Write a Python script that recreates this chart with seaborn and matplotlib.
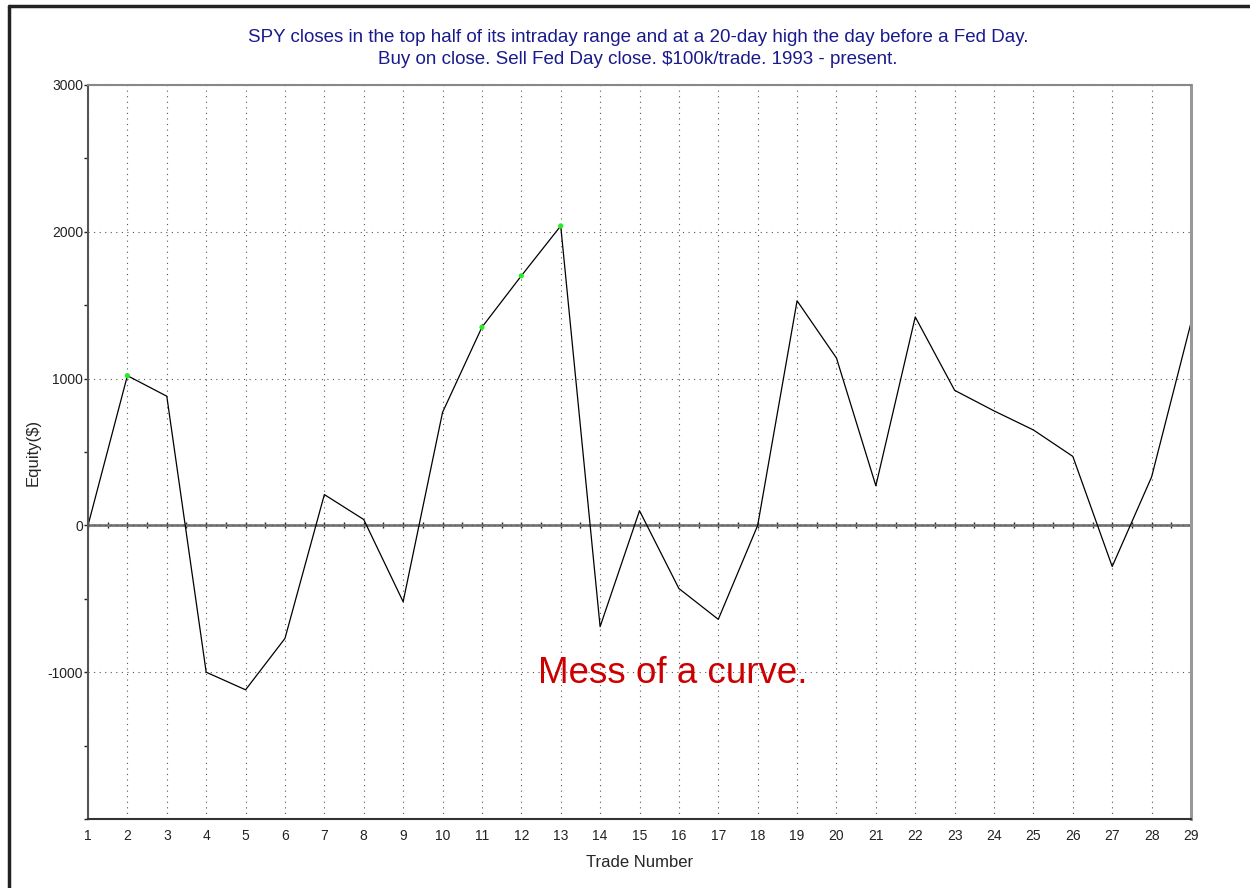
import matplotlib
matplotlib.use("Agg")
import matplotlib.pyplot as plt
import numpy as np
import pandas as pd
import seaborn as sns
from matplotlib.lines import Line2D
from matplotlib.ticker import MultipleLocator

# equity after each trade
trade_number = list(range(1, 30))
equity = [0, 1020, 880, -1000, -1120, -770, 210, 40, -520, 770,
          1350, 1700, 2040, -690, 100, -430, -640, 0, 1530, 1140,
          270, 1420, 920, 780, 650, 470, -280, 330, 1380]

title_lines = [
    "SPY closes in the top half of its intraday range and at a 20-day high the day before a Fed Day.",
    "Buy on close. Sell Fed Day close. $100k/trade. 1993 - present.",
]
note = "Mess of a curve."

df = pd.DataFrame({"trade": trade_number, "equity": equity})
# new equity highs get a green dot
prev_max = df["equity"].cummax().shift(1).fillna(0)
highs = df[df["equity"] > prev_max]

sns.set_style("white")
plt.rcParams["font.family"] = ["Liberation Sans", "DejaVu Sans"]
plt.rcParams["axes.unicode_minus"] = False

fig = plt.figure(figsize=(12.5, 8.88), dpi=100)
ax = fig.add_axes([0.0704, 0.0777, 0.8824, 0.8266])

ax.set_xlim(1, 29)
ax.set_ylim(-2000, 3000)

ax.set_xticks(trade_number)
ax.set_yticks(np.arange(-1000, 3001, 1000))
ax.yaxis.set_minor_locator(MultipleLocator(500))
ax.grid(True, which="major", color="#555555", linestyle=(0, (1, 4)), linewidth=0.8)

sec = ax.secondary_xaxis(0.4)
sec.set_xticks(np.arange(1, 29.01, 0.5))
sec.tick_params(direction="inout", length=5, width=1, colors="#222222",
                labelbottom=False, labeltop=False)
sec.spines["bottom"].set_color("#777777")
sec.spines["bottom"].set_linewidth(2)
sec.spines["top"].set_visible(False)

sns.lineplot(data=df, x="trade", y="equity", color="black", linewidth=0.9, ax=ax)
sns.scatterplot(data=highs, x="trade", y="equity", color="#22ee22", s=14,
                edgecolor="none", ax=ax, zorder=5)

ax.tick_params(axis="x", length=0, pad=7, labelsize=10, colors="#222222")
ax.tick_params(axis="y", which="major", direction="out", length=3, width=1,
               pad=0.5, labelsize=10, colors="#222222", left=True)
ax.tick_params(axis="y", which="minor", direction="out", length=3, width=1,
               colors="#222222", left=True)

for side, col, lw in [("left", "#555555", 1.5), ("top", "#888888", 1.5),
                      ("right", "#999999", 2.2), ("bottom", "#333333", 1.5)]:
    ax.spines[side].set_visible(True)
    ax.spines[side].set_color(col)
    ax.spines[side].set_linewidth(lw)

ax.set_xlabel("Trade Number", fontsize=12, labelpad=9)
ax.set_ylabel("Equity($)", fontsize=12)
ax.yaxis.set_label_coords(-0.043, 0.5)

fig.text(0.5104, 0.958, title_lines[0], ha="center", va="center",
         fontsize=13.5, color="#1a1a8c")
fig.text(0.5104, 0.933, title_lines[1], ha="center", va="center",
         fontsize=13.5, color="#1a1a8c")

ax.text(15.85, -1010, note, ha="center", va="center", fontsize=26.5,
        color="#cc0000")

# outer frame (left and top edges only)
fig.add_artist(Line2D([0.0068, 0.0068], [0, 0.993], color="#222222", linewidth=2.5,
                      transform=fig.transFigure))
fig.add_artist(Line2D([0.0068, 1], [0.993, 0.993], color="#222222", linewidth=2.5,
                      transform=fig.transFigure))

fig.savefig("out.png", dpi=100)
